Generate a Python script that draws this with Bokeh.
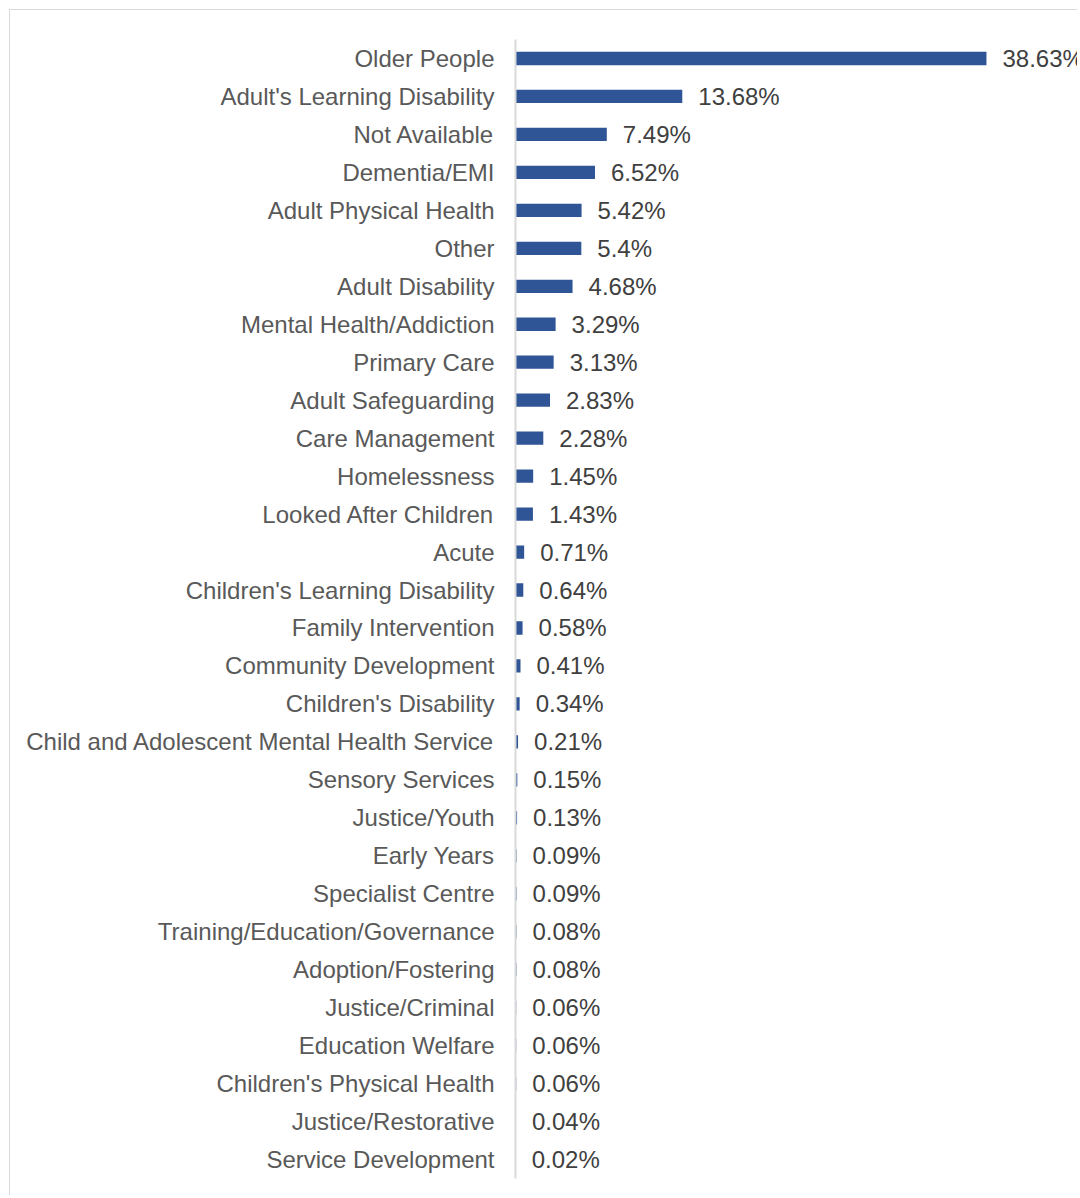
from bokeh.plotting import figure
from bokeh.models import ColumnDataSource, FactorRange
from bokeh.core.properties import value
from bokeh.embed import file_html
from bokeh.resources import INLINE

categories = [
    "Older People", "Adult's Learning Disability", "Not Available", "Dementia/EMI",
    "Adult Physical Health", "Other", "Adult Disability", "Mental Health/Addiction",
    "Primary Care", "Adult Safeguarding", "Care Management", "Homelessness",
    "Looked After Children", "Acute", "Children's Learning Disability",
    "Family Intervention", "Community Development", "Children's Disability",
    "Child and Adolescent Mental Health Service", "Sensory Services", "Justice/Youth",
    "Early Years", "Specialist Centre", "Training/Education/Governance",
    "Adoption/Fostering", "Justice/Criminal", "Education Welfare",
    "Children's Physical Health", "Justice/Restorative", "Service Development",
]
values = [
    38.63, 13.68, 7.49, 6.52, 5.42, 5.4, 4.68, 3.29, 3.13, 2.83, 2.28, 1.45, 1.43,
    0.71, 0.64, 0.58, 0.41, 0.34, 0.21, 0.15, 0.13, 0.09, 0.09, 0.08, 0.08, 0.06,
    0.06, 0.06, 0.04, 0.02,
]
labels = [
    "38.63%", "13.68%", "7.49%", "6.52%", "5.42%", "5.4%", "4.68%", "3.29%", "3.13%",
    "2.83%", "2.28%", "1.45%", "1.43%", "0.71%", "0.64%", "0.58%", "0.41%", "0.34%",
    "0.21%", "0.15%", "0.13%", "0.09%", "0.09%", "0.08%", "0.08%", "0.06%", "0.06%",
    "0.06%", "0.04%", "0.02%",
]

src = ColumnDataSource(dict(cat=categories, val=values, lab=labels))

FONT = "Liberation Sans"

p = figure(
    y_range=FactorRange(factors=list(reversed(categories)), range_padding=0),
    x_range=(0, 46.18),
    width=1068, height=1186,
    output_backend="svg", toolbar_location=None,
    min_border_left=505, min_border_top=29, min_border_bottom=18, min_border_right=0,
)
p.styles = {"margin-left": "9px", "margin-top": "9px",
            "border-left": "1px solid #d9d9d9", "border-top": "1px solid #d9d9d9"}

p.hbar(y="cat", right="val", left=0, height=0.35, source=src,
       fill_color="#2F5597", line_color=None)
p.text(x="val", y="cat", text="lab", source=src, x_offset=16,
       text_baseline="middle", text_align="left",
       text_font=value(FONT), text_font_size="24px", text_color="#404040")

p.xaxis.visible = False
p.grid.visible = False
p.outline_line_color = None
p.background_fill_color = "white"
p.border_fill_color = "white"

ya = p.yaxis[0]
ya.axis_line_color = "#d9d9d9"
ya.axis_line_width = 2
ya.major_tick_line_color = None
ya.minor_tick_line_color = None
ya.major_tick_out = 0
ya.major_tick_in = 0
ya.major_label_standoff = 21
ya.major_label_text_font = FONT
ya.major_label_text_font_size = "24px"
ya.major_label_text_color = "#595959"

open("out.html", "w").write(file_html(p, INLINE))
